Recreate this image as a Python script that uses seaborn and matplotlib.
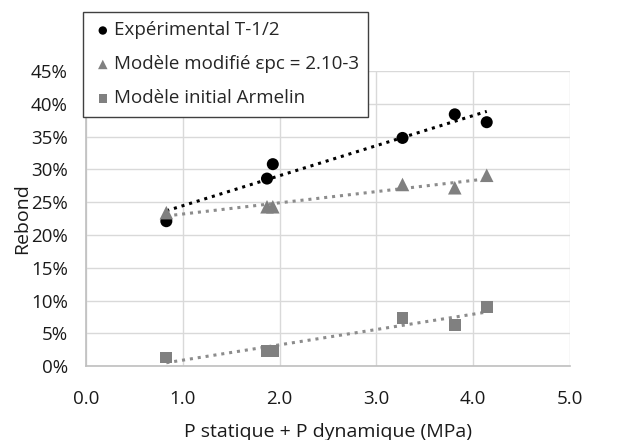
import numpy as np
import pandas as pd
import matplotlib
matplotlib.use("Agg")
import matplotlib.pyplot as plt
import seaborn as sns
from matplotlib.ticker import FuncFormatter

# pressure (MPa)
pression = [0.83, 1.87, 1.93, 3.27, 3.81, 4.14]
# rebond (%)
experimental = [22.1, 28.6, 30.8, 34.8, 38.4, 37.2]
modele_modifie = [23.4, 24.3, 24.3, 27.7, 27.2, 29.1]
modele_initial = [1.3, 2.3, 2.3, 7.3, 6.25, 9.0]

series_names = ["Expérimental T-1/2", "Modèle modifié εpc = 2.10-3", "Modèle initial Armelin"]

sns.set_style("whitegrid")
plt.rcParams["font.family"] = ["Open Sans", "DejaVu Sans"]

df = pd.DataFrame({
    "P": pression * 3,
    "Rebond": experimental + modele_modifie + modele_initial,
    "Serie": sum([[n] * len(pression) for n in series_names], []),
})

fig = plt.figure(figsize=(6.2, 4.4), dpi=100)
ax = fig.add_axes([0.1387, 0.168, 0.7806, 0.6705])

colors = {series_names[0]: "black", series_names[1]: "#808080", series_names[2]: "#808080"}
markers = {series_names[0]: "o", series_names[1]: "^", series_names[2]: "s"}
sizes = {series_names[0]: 75, series_names[1]: 95, series_names[2]: 72}
trend_col = {series_names[0]: "black", series_names[1]: "#8c8c8c", series_names[2]: "#8c8c8c"}

for name in series_names:
    sub = df[df["Serie"] == name]
    sns.scatterplot(data=sub, x="P", y="Rebond", ax=ax, color=colors[name],
                    marker=markers[name], s=sizes[name], edgecolor="none",
                    label=name, zorder=3)
    # linear trendline
    a, b = np.polyfit(sub["P"], sub["Rebond"], 1)
    xs = np.array([sub["P"].min(), sub["P"].max()])
    ax.plot(xs, a * xs + b, linestyle=(0, (1, 1.6)), color=trend_col[name],
            linewidth=2.2, zorder=2)

ax.set_xlim(0, 5)
ax.set_ylim(0, 45)
ax.set_xticks(np.arange(0, 5.01, 1))
ax.set_yticks(np.arange(0, 45.01, 5))
ax.xaxis.set_major_formatter(FuncFormatter(lambda v, p: f"{v:.1f}"))
ax.yaxis.set_major_formatter(FuncFormatter(lambda v, p: f"{v:.0f}%"))
ax.tick_params(labelsize=13.5, colors="#1a1a1a", length=0)
ax.tick_params(axis="x", pad=17)
ax.tick_params(axis="y", pad=13)
ax.grid(True, color="#d9d9d9", linewidth=1)
for side in ["top", "right"]:
    ax.spines[side].set_visible(False)
for side in ["left", "bottom"]:
    ax.spines[side].set_color("#bfbfbf")
    ax.spines[side].set_linewidth(1.2)

ax.set_xlabel("P statique + P dynamique (MPa)", fontsize=14, color="#1a1a1a", labelpad=11)
ax.set_ylabel("Rebond", fontsize=14, color="#1a1a1a")
ax.yaxis.set_label_coords(-0.114, 0.5)

leg = ax.legend(loc="upper left", bbox_to_anchor=(-0.006, 1.2), borderaxespad=0,
                frameon=True, fancybox=False, fontsize=13.5, handletextpad=0.05,
                handlelength=1.1, borderpad=0.5, labelspacing=0.85, markerscale=0.7)
leg.get_frame().set_edgecolor("#404040")
leg.get_frame().set_linewidth(1)
leg.get_frame().set_alpha(1)
leg.set_zorder(5)

fig.savefig("out.png", dpi=100)
